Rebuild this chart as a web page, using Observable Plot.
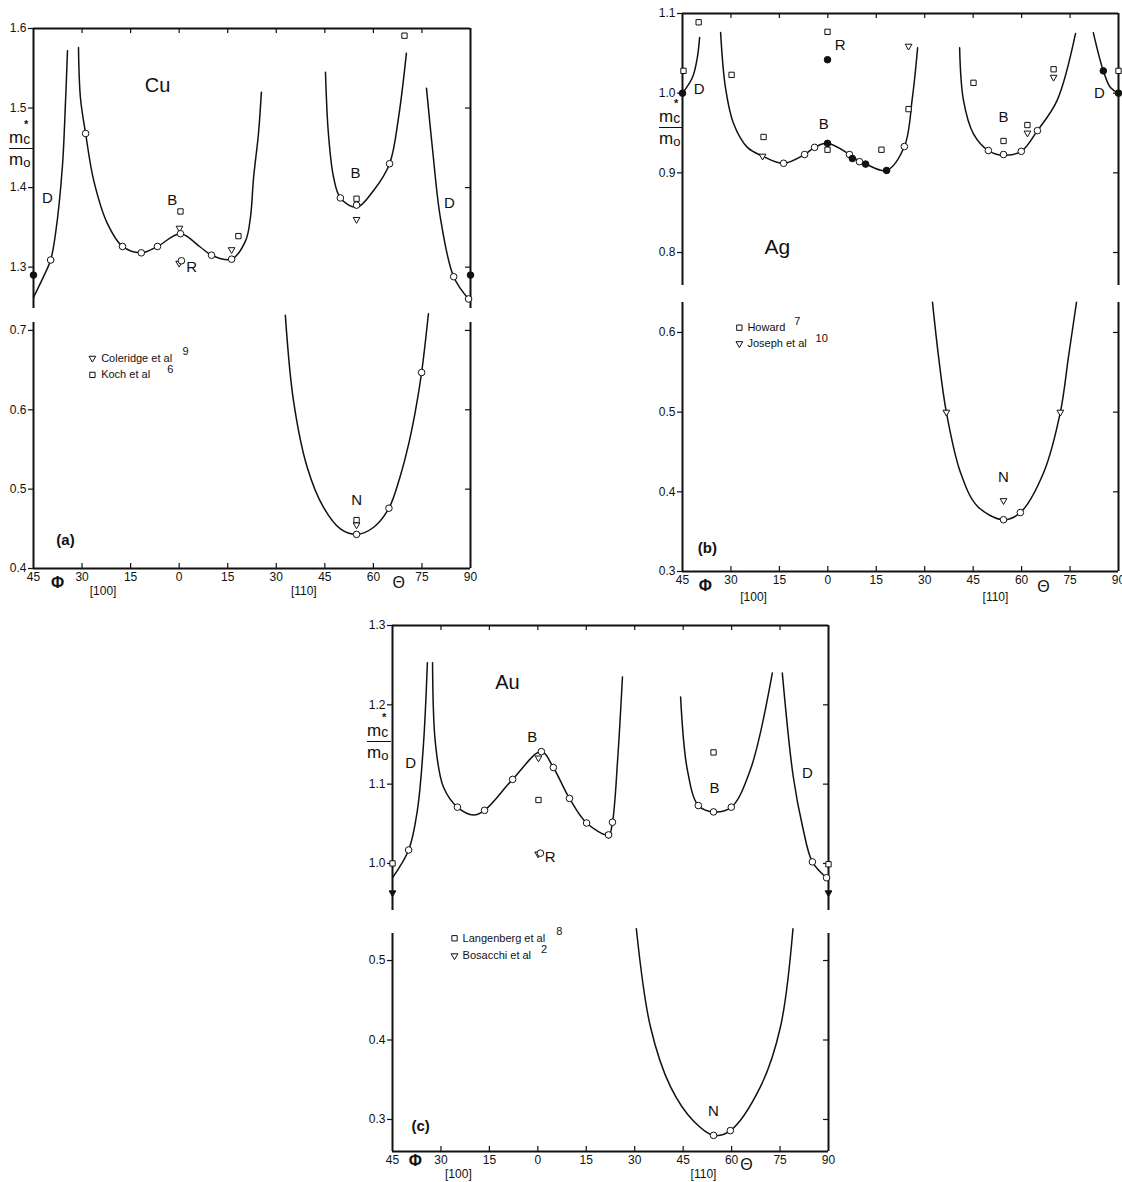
<!DOCTYPE html>
<html><head><meta charset="utf-8">
<script src="https://cdn.jsdelivr.net/npm/d3@7"></script>
<script src="https://cdn.jsdelivr.net/npm/@observablehq/plot@0.6"></script>
<style>
html,body{margin:0;padding:0;background:#fff;overflow:hidden;}
#page{position:relative;width:1122px;height:1182px;background:#fff;}
.slot{position:absolute;}
.frac{position:absolute;height:0;font-family:"Liberation Sans","DejaVu Sans",sans-serif;color:#111;}
.frac .num{position:absolute;left:0;bottom:2px;font-size:17px;line-height:17px;white-space:nowrap;}
.frac .num .c{font-size:14px;position:relative;top:1px;}
.frac .num .st{position:absolute;left:15px;top:-9px;font-size:11px;line-height:9px;font-weight:bold;}
.frac .bar{position:absolute;left:0;right:0;top:-1px;border-top:1.4px solid #111;}
.frac .den{position:absolute;left:0;top:2px;font-size:17px;line-height:17px;white-space:nowrap;}
.frac .den .o{font-size:13px;position:relative;top:2px;}
</style>
</head><body>
<div id="page">
  <div class="frac" style="left:9px;top:149px;width:24px;"><div class="num">m<span class="c">c</span><span class="st">*</span></div><div class="bar"></div><div class="den">m<span class="o">o</span></div></div>
  <div class="frac" style="left:659px;top:128px;width:23px;"><div class="num">m<span class="c">c</span><span class="st">*</span></div><div class="bar"></div><div class="den">m<span class="o">o</span></div></div>
  <div class="frac" style="left:367px;top:742px;width:24px;"><div class="num">m<span class="c">c</span><span class="st">*</span></div><div class="bar"></div><div class="den">m<span class="o">o</span></div></div>
</div>
<script>
// ---------- axis definitions ----------
const xPos = [0, 15, 30, 45, 60, 75, 90, 105, 120, 135];
const xTickLabels = ["45", "30", "15", "0", "15", "30", "45", "60", "75", "90"];
const innerX = [15, 30, 45, 60, 75, 90, 105, 120];

// ---------- Cu (a) ----------
const cuD1 = [[0,1.262],[3.1,1.288],[5.3,1.309],[6.8,1.342],[8.9,1.425],[9.9,1.509],[10.5,1.572]];
const cuB1 = [[13.9,1.576],[14.5,1.513],[16.1,1.468],[18.6,1.409],[22.8,1.355],[27.5,1.326],[33.3,1.318],[38.3,1.326],[45.4,1.342],[51.6,1.325],[55,1.315],[61.2,1.31],[65.5,1.333],[67,1.362],[68,1.413],[69.5,1.468],[70.4,1.52]];
const cuB2 = [[90.2,1.545],[91.1,1.468],[92.7,1.413],[94.8,1.387],[99.8,1.375],[105,1.396],[110,1.43],[112.8,1.489],[115.2,1.569]];
const cuD2 = [[121.4,1.525],[123.3,1.447],[125.7,1.362],[129.8,1.288],[134.4,1.26]];
const cuOpen = [[5.3,1.309],[16.1,1.468],[27.5,1.326],[33.3,1.318],[38.3,1.326],[45.4,1.342],[55,1.315],[61.2,1.31],[94.8,1.387],[99.8,1.378],[110,1.43],[129.8,1.288],[134.4,1.26],[45.7,1.308]];
const cuFilled = [[0,1.29],[135,1.29]];
const cuSquares = [[45.4,1.37],[63.3,1.339],[99.8,1.386],[114.6,1.591]];
const cuTriangles = [[45.1,1.349],[61.2,1.322],[99.8,1.36],[45.0,1.305]];
const cuN = [[77.8,0.719],[80.3,0.612],[84.6,0.527],[89.6,0.477],[94.8,0.45],[99.8,0.443],[105.1,0.452],[109.8,0.476],[113.2,0.515],[115.9,0.557],[118,0.599],[119.9,0.647],[122,0.721]];
const cuNOpen = [[99.8,0.443],[109.8,0.476],[119.9,0.647]];
const cuNSquares = [[99.8,0.461]];
const cuNTriangles = [[99.8,0.455]];

// ---------- Ag (b) ----------
const agD1 = [[0,1.0],[3.1,1.02],[4.6,1.045],[5.3,1.07]];
const agB1 = [[11.8,1.076],[13.3,1.007],[15.8,0.962],[20.1,0.932],[24.8,0.921],[31.3,0.912],[37.8,0.923],[40.9,0.932],[44.9,0.937],[51.7,0.923],[54.8,0.914],[56.7,0.911],[63.2,0.903],[68.7,0.933],[71.2,0.995],[72.8,1.057]];
const agB2 = [[85.8,1.057],[87,0.991],[90.1,0.949],[94.7,0.928],[99.4,0.922],[104.9,0.927],[109.9,0.953],[116,0.991],[121.7,1.075]];
const agD2 = [[127.2,1.076],[130.3,1.028],[132.5,1.007],[135,1.0]];
const agOpen = [[31.3,0.912],[37.8,0.923],[40.9,0.932],[51.7,0.923],[54.8,0.914],[68.7,0.933],[94.7,0.928],[99.4,0.923],[104.9,0.927],[109.9,0.953]];
const agFilled = [[0,1.0],[44.9,0.937],[52.6,0.918],[56.7,0.911],[63.2,0.903],[44.9,1.042],[130.3,1.028],[135,1.0]];
const agSquares = [[0.3,1.028],[5,1.089],[15.2,1.023],[25.1,0.945],[44.9,0.929],[44.9,1.077],[61.6,0.929],[70,0.98],[90.1,1.013],[99.4,0.94],[106.8,0.96],[114.9,1.03],[135,1.028]];
const agTriangles = [[24.8,0.921],[70,1.059],[106.8,0.95],[114.9,1.02]];
const agN = [[77.4,0.638],[79.3,0.569],[81.7,0.5],[86.1,0.424],[91.3,0.382],[99.4,0.365],[104.6,0.374],[111.8,0.424],[117,0.5],[119.5,0.569],[122,0.638]];
const agNOpen = [[99.4,0.365],[104.6,0.374]];
const agNTriangles = [[81.7,0.5],[117,0.5],[99.4,0.389]];

// ---------- Au (c) ----------
const auD1 = [[0,0.982],[5,1.017],[7.7,1.067],[9.6,1.151],[10.8,1.253]];
const auB1 = [[12.4,1.253],[13.3,1.151],[15.8,1.096],[20.1,1.071],[25.1,1.061],[28.5,1.067],[37.2,1.106],[46.1,1.141],[49.8,1.121],[54.8,1.082],[60.1,1.051],[66.9,1.036],[68.1,1.052],[69.7,1.13],[71.2,1.235]];
const auB2 = [[89.2,1.21],[91.3,1.118],[94.7,1.073],[99.4,1.065],[104.9,1.071],[110.8,1.118],[117.6,1.24]];
const auD2 = [[120.7,1.24],[124.1,1.109],[127,1.046],[130,1.002],[134.4,0.982]];
const auOpen = [[5,1.017],[20.1,1.071],[28.5,1.067],[37.2,1.106],[46.1,1.141],[49.8,1.121],[54.8,1.082],[60.1,1.051],[66.9,1.036],[68.1,1.052],[94.7,1.073],[99.4,1.065],[104.9,1.071],[130,1.002],[134.4,0.982],[45.8,1.013]];
const auFilledTriangles = [[0,0.963],[135,0.963]];
const auSquares = [[0,1.0],[45.2,1.08],[99.4,1.14],[135,0.999]];
const auTriangles = [[45.2,1.133],[66.9,1.036],[45.1,1.012]];
const auN = [[75.5,0.54],[79.9,0.416],[86.1,0.341],[93.2,0.298],[99.4,0.28],[104.6,0.286],[113.9,0.341],[120.1,0.416],[124,0.54]];
const auNOpen = [[99.4,0.28],[104.6,0.286]];

// ---------- annotations [x, y, text] ----------
const cuTitle = [[38.3,1.528,"Cu"]];
const cuUpperLabels = [[4.3,1.387,"D"],[42.9,1.384,"B"],[48.9,1.300,"R"],[99.5,1.418,"B"],[128.5,1.381,"D"]];
const cuLowerLabels = [[99.8,0.486,"N"]];
const cuTag = [[9.9,0.436,"(a)"]];
const cuLegSym = {tri: [[18.2,0.665]], sq: [[18.2,0.644]]};
const cuLegText = [[20.9,0.665,"Coleridge et al"],[20.9,0.644,"Koch et al"]];
const cuLegSup = [[46.0,0.674,"9"],[41.3,0.651,"6"]];

const agTitle = [[29.4,0.806,"Ag"]];
const agUpperLabels = [[5.2,1.005,"D"],[48.8,1.06,"R"],[43.7,0.961,"B"],[99.4,0.97,"B"],[129.1,1.0,"D"]];
const agLowerLabels = [[99.4,0.418,"N"]];
const agTag = [[7.7,0.329,"(b)"]];
const agLegSym = {sq: [[17.6,0.606]], tri: [[17.6,0.586]]};
const agLegText = [[20.1,0.606,"Howard"],[20.1,0.586,"Joseph et al"]];
const agLegSup = [[34.6,0.614,"7"],[41.2,0.593,"10"]];

const auTitle = [[35.6,1.228,"Au"]];
const auUpperLabels = [[5.6,1.126,"D"],[43.3,1.159,"B"],[48.8,1.008,"R"],[99.7,1.095,"B"],[128.5,1.114,"D"]];
const auLowerLabels = [[99.4,0.311,"N"]];
const auTag = [[8.7,0.292,"(c)"]];
const auLegSym = {sq: [[19.2,0.528]], tri: [[19.2,0.506]]};
const auLegText = [[21.7,0.528,"Langenberg et al"],[21.7,0.506,"Bosacchi et al"]];
const auLegSup = [[50.7,0.536,"8"],[46.0,0.514,"2"]];

// ---------- helpers ----------
const INK = "#111";
const NUMFONT = '"Liberation Sans","DejaVu Sans",sans-serif';
const TXTFONT = '"Liberation Sans","DejaVu Sans",sans-serif';
const triangleDown = {
  draw(context, size) {
    const s3 = Math.sqrt(3);
    const y = -Math.sqrt(size / (s3 * 3));
    context.moveTo(0, -y * 2);
    context.lineTo(-s3 * y, y);
    context.lineTo(s3 * y, y);
    context.closePath();
  }
};
const X = d => d[0], Y = d => d[1], T = d => d[2];
const curve = data => Plot.line(data, {x: X, y: Y, curve: "catmull-rom", stroke: INK, strokeWidth: 1.5});
const openDots = data => Plot.dot(data, {x: X, y: Y, r: 3.3, fill: "white", stroke: INK, strokeWidth: 1});
const filledDots = data => Plot.dot(data, {x: X, y: Y, r: 3.3, fill: INK, stroke: INK, strokeWidth: 1});
const squares = data => Plot.dot(data, {x: X, y: Y, symbol: "square", r: 3, fill: "white", stroke: INK, strokeWidth: 1});
const triangles = (data, fill = "white") => Plot.dot(data, {x: X, y: Y, symbol: triangleDown, r: 2.5, fill, stroke: INK, strokeWidth: 1});
const txt = (data, opts) => Plot.text(data, {x: X, y: Y, text: T, fill: INK, fontFamily: TXTFONT, ...opts});

function axisExtras(yMin, e) {
  return [
    Plot.text([[e.phi[0], yMin, "Φ"]], {x: X, y: Y, text: T, dy: e.phi[1], fontSize: 16, fontWeight: "bold", fill: INK, fontFamily: TXTFONT}),
    Plot.text([[e.theta[0], yMin, "Θ"]], {x: X, y: Y, text: T, dy: e.theta[1], fontSize: 16, fill: INK, fontFamily: TXTFONT}),
    Plot.text([[e.b100[0], yMin, "[100]"], [e.b110[0], yMin, "[110]"]], {x: X, y: Y, text: T, dy: e.b100[1], fontSize: 12, fill: INK, fontFamily: NUMFONT})
  ];
}

const page = document.getElementById("page");
function half({frame, yDomain, yTicks, rightTicks, upper, pad, marks}) {
  const [xL, yT, xR, yB] = frame;
  const {l, r, t, b} = pad;
  const edge = upper ? yDomain[1] : yDomain[0];
  const chart = Plot.plot({
    width: xR - xL + l + r,
    height: yB - yT + t + b,
    marginLeft: l, marginRight: r, marginTop: t, marginBottom: b,
    x: upper ? {domain: [0, 135], axis: null} : {domain: [0, 135]},
    y: {domain: yDomain},
    style: `background:transparent;overflow:visible;max-width:none;font-family:${NUMFONT};font-size:12px;color:${INK};`,
    marks: [
      Plot.ruleX([0, 135], {stroke: INK, strokeWidth: 2}),
      Plot.ruleY([edge], {stroke: INK, strokeWidth: 2}),
      upper
        ? Plot.ruleX(innerX, {x: d => d, y1: edge, y2: edge, insetBottom: -5, stroke: INK, strokeWidth: 1.2})
        : Plot.ruleX(innerX, {x: d => d, y1: edge, y2: edge, insetTop: -5, stroke: INK, strokeWidth: 1.2}),
      Plot.ruleY(rightTicks, {y: d => d, x1: 135, x2: 135, insetLeft: -5, stroke: INK, strokeWidth: 1.2}),
      Plot.axisY({anchor: "left", ticks: yTicks, tickSize: 5, tickPadding: 2, tickFormat: d3.format(".1f"), label: null, fontSize: 12, strokeWidth: 1.2}),
      ...(upper ? [] : [Plot.axisX({anchor: "bottom", ticks: xPos, tickSize: 0, tickPadding: 4, tickFormat: d => xTickLabels[xPos.indexOf(d)], label: null, fontSize: 12})]),
      ...marks
    ]
  });
  const div = document.createElement("div");
  div.className = "slot";
  div.style.left = (xL - l) + "px";
  div.style.top = (yT - t) + "px";
  div.appendChild(chart);
  page.appendChild(div);
}

const legend = (sym, text, sup) => [
  squares(sym.sq), triangles(sym.tri),
  txt(text, {textAnchor: "start", fontSize: 11}),
  txt(sup, {textAnchor: "start", fontSize: 11})
];

// ---------- panel (a) Cu ----------
half({frame: [33, 28, 470, 308], yDomain: [1.248, 1.6], yTicks: [1.3, 1.4, 1.5, 1.6], rightTicks: [1.3, 1.4, 1.5], upper: true,
  pad: {l: 40, r: 10, t: 12, b: 4},
  marks: [curve(cuD1), curve(cuB1), curve(cuB2), curve(cuD2),
    squares(cuSquares), triangles(cuTriangles), openDots(cuOpen), filledDots(cuFilled),
    txt(cuTitle, {fontSize: 20}), txt(cuUpperLabels, {fontSize: 15})]});
half({frame: [33, 322, 470, 568], yDomain: [0.4, 0.71], yTicks: [0.4, 0.5, 0.6, 0.7], rightTicks: [0.5, 0.6, 0.7], upper: false,
  pad: {l: 40, r: 10, t: 6, b: 40},
  marks: [curve(cuN), openDots(cuNOpen), squares(cuNSquares), triangles(cuNTriangles),
    txt(cuLowerLabels, {fontSize: 15}), txt(cuTag, {fontSize: 15, fontWeight: "bold"}),
    ...legend(cuLegSym, cuLegText, cuLegSup),
    ...axisExtras(0.4, {phi: [7.4, 14], theta: [112.8, 14], b100: [21.5, 23], b110: [83.5, 23]})]});

// ---------- panel (b) Ag ----------
half({frame: [682, 13, 1118, 285], yDomain: [0.7586, 1.1], yTicks: [0.8, 0.9, 1.0, 1.1], rightTicks: [0.8, 0.9, 1.0], upper: true,
  pad: {l: 40, r: 4, t: 10, b: 4},
  marks: [curve(agD1), curve(agB1), curve(agB2), curve(agD2),
    squares(agSquares), triangles(agTriangles), openDots(agOpen), filledDots(agFilled),
    txt(agTitle, {fontSize: 21}), txt(agUpperLabels, {fontSize: 15})]});
half({frame: [682, 302, 1118, 571], yDomain: [0.3, 0.6376], yTicks: [0.3, 0.4, 0.5, 0.6], rightTicks: [0.4, 0.5, 0.6], upper: false,
  pad: {l: 40, r: 4, t: 6, b: 40},
  marks: [curve(agN), openDots(agNOpen), triangles(agNTriangles),
    txt(agLowerLabels, {fontSize: 15}), txt(agTag, {fontSize: 15, fontWeight: "bold"}),
    ...legend(agLegSym, agLegText, agLegSup),
    ...axisExtras(0.3, {phi: [7.1, 14], theta: [111.8, 15], b100: [22, 26], b110: [96.9, 26]})]});

// ---------- panel (c) Au ----------
half({frame: [392, 625, 828, 910], yDomain: [0.9407, 1.3], yTicks: [1.0, 1.1, 1.2, 1.3], rightTicks: [1.0, 1.1, 1.2], upper: true,
  pad: {l: 40, r: 10, t: 12, b: 4},
  marks: [curve(auD1), curve(auB1), curve(auB2), curve(auD2),
    squares(auSquares), triangles(auTriangles), triangles(auFilledTriangles, INK), openDots(auOpen),
    txt(auTitle, {fontSize: 20}), txt(auUpperLabels, {fontSize: 15})]});
half({frame: [392, 933, 828, 1151], yDomain: [0.2597, 0.534], yTicks: [0.3, 0.4, 0.5], rightTicks: [0.3, 0.4, 0.5], upper: false,
  pad: {l: 40, r: 10, t: 6, b: 31},
  marks: [curve(auN), openDots(auNOpen),
    txt(auLowerLabels, {fontSize: 15}), txt(auTag, {fontSize: 15, fontWeight: "bold"}),
    ...legend(auLegSym, auLegText, auLegSup),
    ...axisExtras(0.2597, {phi: [7.1, 9], theta: [109.6, 13], b100: [20.4, 23], b110: [96.3, 23]})]});
</script>
</body></html>
